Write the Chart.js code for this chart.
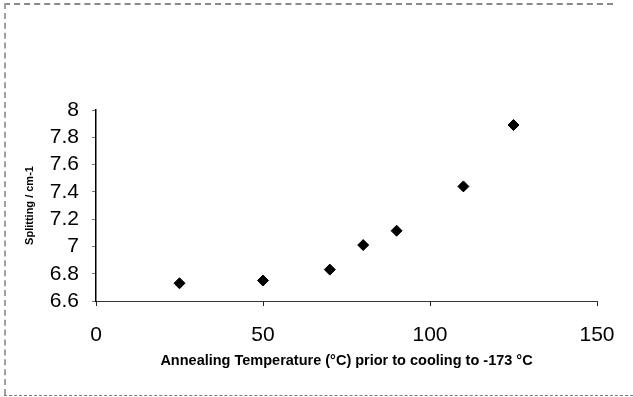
<!DOCTYPE html>
<html>
<head>
<meta charset="utf-8">
<script src="https://cdn.jsdelivr.net/npm/chart.js@4/dist/chart.umd.min.js"></script>
<style>
  html, body { margin: 0; padding: 0; background: #fff; }
  #wrap { position: relative; width: 633px; height: 397px; overflow: hidden; }
  canvas { position: absolute; left: 0; top: 0; }
  .frame-top { position: absolute; left: 4px; top: 3px; width: 609px; height: 0; border-top: 2px dashed #8a8a8a; }
  .frame-left { position: absolute; left: 4px; top: 3px; width: 0; height: 392px; border-left: 2px dashed #a0a0a0; }
  .frame-bottom { position: absolute; left: 4px; top: 395px; width: 629px; height: 0; border-top: 1px dashed #7a7a7a; }
</style>
</head>
<body>
<div id="wrap">
  <canvas id="c" width="633" height="397"></canvas>
  <div class="frame-top"></div>
  <div class="frame-left"></div>
  <div class="frame-bottom"></div>
</div>
<script>
// Data
const temperatures = [25, 50, 70, 80, 90, 110, 125];
const splitting = [6.73, 6.75, 6.83, 7.01, 7.115, 7.44, 7.89];
const xTicks = [0, 50, 100, 150];
const yTicks = [6.6, 6.8, 7, 7.2, 7.4, 7.6, 7.8, 8];
const xTickLabels = ['0', '50', '100', '150'];
const yTickLabels = ['6.6', '6.8', '7', '7.2', '7.4', '7.6', '7.8', '8'];
const xTitle = 'Annealing Temperature (°C) prior to cooling to -173 °C';
const yTitle = 'Splitting / cm-1';

const points = temperatures.map((t, i) => ({ x: t, y: splitting[i] }));

new Chart(document.getElementById('c'), {
  type: 'scatter',
  data: {
    datasets: [{
      data: points,
      pointStyle: 'rectRot',
      pointRadius: 5.5,
      pointHoverRadius: 5.5,
      backgroundColor: '#000',
      borderColor: '#000',
      borderWidth: 1
    }]
  },
  options: {
    responsive: false,
    animation: false,
    events: [],
    layout: { padding: { left: 23, right: 36, top: 110, bottom: 27 } },
    plugins: { legend: { display: false }, tooltip: { enabled: false } },
    scales: {
      x: {
        type: 'linear',
        min: 0, max: 150,
        afterBuildTicks: s => { s.ticks = xTicks.map(v => ({ value: v })); },
        afterFit: s => { s.height = 69; },
        grid: { drawOnChartArea: false, drawTicks: true, tickLength: 5, color: '#222', tickColor: '#222' },
        border: { display: true, color: '#333', width: 1 },
        ticks: {
          autoSkip: false,
          maxRotation: 0,
          padding: 17,
          color: '#000',
          font: { family: 'Liberation Sans, Arial, sans-serif', size: 21 },
          callback: v => xTickLabels[xTicks.indexOf(v)] ?? ''
        },
        title: {
          display: true,
          text: xTitle,
          color: '#000',
          padding: 0,
          font: { family: 'Liberation Sans, Arial, sans-serif', size: 14.5, weight: 'bold' }
        }
      },
      y: {
        type: 'linear',
        min: 6.6, max: 8,
        afterBuildTicks: s => { s.ticks = yTicks.map(v => ({ value: v })); },
        afterFit: s => { s.width = 73; },
        grid: { drawOnChartArea: false, drawTicks: true, tickLength: 4, color: '#777', tickColor: '#777' },
        border: { display: true, color: '#000', width: 1.5 },
        ticks: {
          autoSkip: false,
          padding: 13,
          color: '#000',
          font: { family: 'Liberation Sans, Arial, sans-serif', size: 21 },
          callback: v => {
            const i = yTicks.findIndex(t => Math.abs(t - v) < 1e-6);
            return i >= 0 ? yTickLabels[i] : '';
          }
        },
        title: {
          display: true,
          text: yTitle,
          color: '#000',
          padding: 0,
          font: { family: 'Liberation Sans, Arial, sans-serif', size: 11, weight: 'bold' }
        }
      }
    }
  }
});
</script>
</body>
</html>
